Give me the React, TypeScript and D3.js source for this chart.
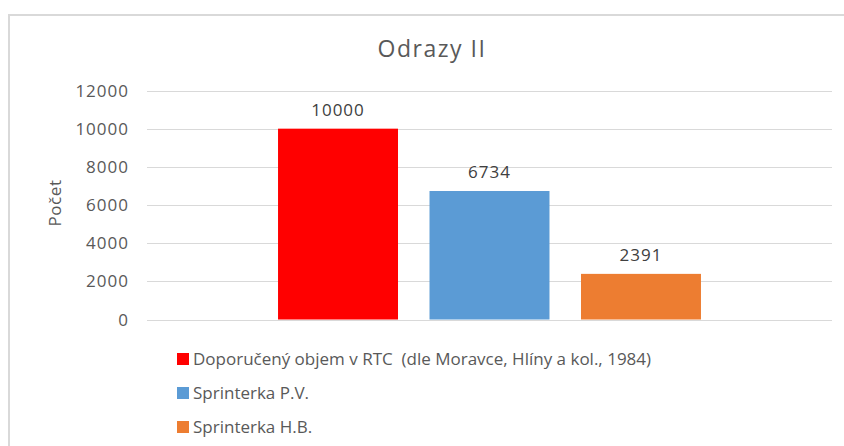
import { useEffect, useRef } from "react"
import * as d3 from "d3"

const seriesNames = [
  "Doporučený objem v RTC  (dle Moravce, Hlíny a kol., 1984)",
  "Sprinterka P.V.",
  "Sprinterka H.B.",
]
const seriesValues = [10000, 6734, 2391]
const seriesColors = ["#ff0000", "#5b9bd5", "#ed7d31"]
const yTicks = [0, 2000, 4000, 6000, 8000, 10000, 12000]

const W = 844
const H = 446
const FONT = "'Open Sans', 'DejaVu Sans', sans-serif"

const App = () => {
  const ref = useRef<SVGSVGElement>(null)

  useEffect(() => {
    if (!ref.current) return
    const svg = d3.select(ref.current)
    svg.selectAll("*").remove()

    const left = 147
    const right = 832
    const top = 90.5
    const bottom = 319.5

    // frame of the chart area (cut off at right/bottom in the picture)
    svg
      .append("rect")
      .attr("x", 9)
      .attr("y", 15)
      .attr("width", W + 20)
      .attr("height", H + 20)
      .attr("fill", "#fff")
      .attr("stroke", "#d9d9d9")
      .attr("stroke-width", 2)

    const y = d3.scaleLinear().domain([0, 12000]).range([bottom, top])
    const x = d3
      .scaleBand<string>()
      .domain(seriesNames)
      .range([left, right])
      .paddingInner(0.208)
      .paddingOuter(0.865)

    // gridlines
    svg
      .append("g")
      .selectAll("line")
      .data(yTicks)
      .join("line")
      .attr("x1", left)
      .attr("x2", right)
      .attr("y1", (d) => Math.round(y(d)) + 0.5)
      .attr("y2", (d) => Math.round(y(d)) + 0.5)
      .attr("stroke", "#d9d9d9")
      .attr("stroke-width", 1)

    // tick labels
    svg
      .append("g")
      .selectAll("text")
      .data(yTicks)
      .join("text")
      .attr("x", 129)
      .attr("y", (d) => y(d))
      .attr("dy", "0.36em")
      .attr("text-anchor", "end")
      .attr("font-family", FONT)
      .attr("font-size", 17)
      .attr("letter-spacing", 1)
      .attr("fill", "#595959")
      .text((d) => String(d))

    // bars
    svg
      .append("g")
      .selectAll("rect")
      .data(seriesNames)
      .join("rect")
      .attr("x", (d) => x(d)!)
      .attr("width", x.bandwidth())
      .attr("y", (_, i) => y(seriesValues[i]))
      .attr("height", (_, i) => bottom - y(seriesValues[i]))
      .attr("fill", (_, i) => seriesColors[i])

    // value labels
    svg
      .append("g")
      .selectAll("text")
      .data(seriesNames)
      .join("text")
      .attr("x", (d) => x(d)! + x.bandwidth() / 2)
      .attr("y", (_, i) => y(seriesValues[i]) - 13)
      .attr("text-anchor", "middle")
      .attr("font-family", FONT)
      .attr("font-size", 17)
      .attr("letter-spacing", 1)
      .attr("fill", "#404040")
      .text((_, i) => String(seriesValues[i]))

    // title
    svg
      .append("text")
      .attr("x", 432)
      .attr("y", 57)
      .attr("text-anchor", "middle")
      .attr("font-family", FONT)
      .attr("font-size", 23)
      .attr("letter-spacing", 1.5)
      .attr("fill", "#595959")
      .text("Odrazy II")

    // y axis title
    svg
      .append("text")
      .attr("transform", "translate(61,203) rotate(-90)")
      .attr("text-anchor", "middle")
      .attr("font-family", FONT)
      .attr("font-size", 17)
      .attr("letter-spacing", 0.6)
      .attr("fill", "#595959")
      .text("Počet")

    // legend
    const legend = svg
      .append("g")
      .selectAll("g")
      .data(seriesNames)
      .join("g")
      .attr("transform", (_, i) => `translate(177,${359 + i * 34})`)
    legend
      .append("rect")
      .attr("x", 0)
      .attr("y", -6)
      .attr("width", 12)
      .attr("height", 12)
      .attr("fill", (_, i) => seriesColors[i])
    legend
      .append("text")
      .attr("x", 16)
      .attr("y", 0)
      .attr("dy", "0.36em")
      .attr("font-family", FONT)
      .attr("font-size", 17)
      .attr("fill", "#595959")
      .style("white-space", "pre")
      .text((d) => d)
  }, [])

  return (
    <svg
      ref={ref}
      width={W}
      height={H}
      viewBox={`0 0 ${W} ${H}`}
      style={{ position: "absolute", left: 0, top: 0, display: "block" }}
    />
  )
}

export default App
